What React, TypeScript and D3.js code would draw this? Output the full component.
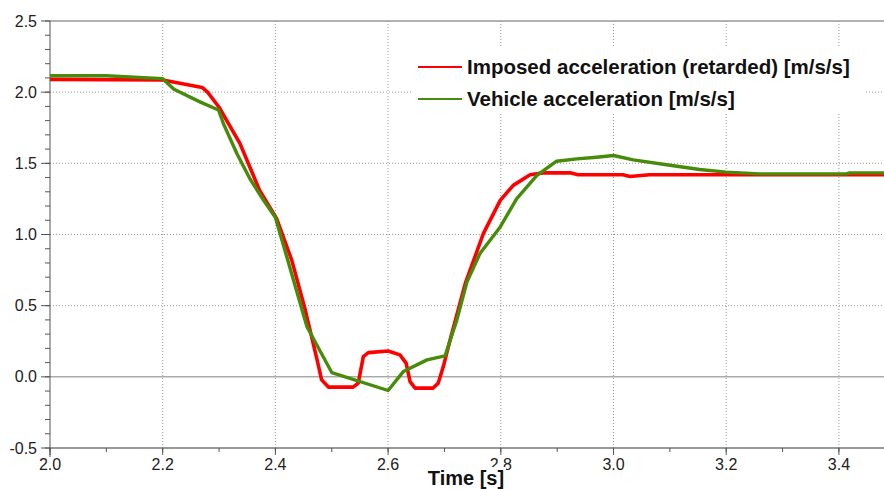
import React, { useEffect } from "react";
import * as d3 from "d3";

// Imposed acceleration (retarded), m/s/s
const imposedTime = [2.0, 2.2, 2.27, 2.28, 2.3, 2.337, 2.372, 2.402, 2.429, 2.453, 2.474, 2.482, 2.494, 2.538, 2.547, 2.556, 2.565, 2.6, 2.621, 2.632, 2.639, 2.648, 2.68, 2.689, 2.698, 2.71, 2.737, 2.769, 2.799, 2.822, 2.852, 2.875, 2.923, 2.937, 3.017, 3.029, 3.064, 3.48];
const imposedAcc = [2.09, 2.085, 2.033, 1.998, 1.894, 1.64, 1.31, 1.113, 0.82, 0.469, 0.119, -0.021, -0.072, -0.072, -0.044, 0.142, 0.17, 0.182, 0.154, 0.096, -0.033, -0.079, -0.079, -0.044, 0.072, 0.26, 0.656, 1.006, 1.24, 1.345, 1.42, 1.433, 1.433, 1.42, 1.42, 1.408, 1.42, 1.42];

// Vehicle acceleration, m/s/s
const vehicleTime = [2.0, 2.1, 2.2, 2.22, 2.267, 2.299, 2.308, 2.332, 2.355, 2.379, 2.4, 2.456, 2.5, 2.6, 2.627, 2.669, 2.701, 2.722, 2.74, 2.763, 2.799, 2.828, 2.864, 2.899, 2.935, 2.97, 3.0, 3.035, 3.094, 3.153, 3.2, 3.259, 3.413, 3.419, 3.48];
const vehicleAcc = [2.115, 2.115, 2.095, 2.02, 1.93, 1.875, 1.776, 1.566, 1.39, 1.24, 1.12, 0.352, 0.03, -0.096, 0.037, 0.119, 0.147, 0.4, 0.667, 0.866, 1.053, 1.251, 1.415, 1.515, 1.531, 1.543, 1.555, 1.524, 1.49, 1.457, 1.438, 1.426, 1.426, 1.433, 1.433];

const xTicks = [2.0, 2.2, 2.4, 2.6, 2.8, 3.0, 3.2, 3.4];
const yTicks = [-0.5, 0.0, 0.5, 1.0, 1.5, 2.0, 2.5];

const legendLabels = ["Imposed acceleration (retarded) [m/s/s]", "Vehicle acceleration [m/s/s]"];
const colors = ["#ff0000", "#468c0a"];

const width = 884;
const height = 489;
const margin = { top: 21, right: 0, bottom: 41, left: 50 };

export default function App() {
  useEffect(() => {
    document.body.style.margin = "0";
  }, []);

  const x = d3.scaleLinear().domain([2.0, 3.48]).range([margin.left, width - margin.right]);
  const y = d3.scaleLinear().domain([-0.5, 2.5]).range([height - margin.bottom, margin.top]);

  const line = d3
    .line<[number, number]>()
    .x((d) => x(d[0]))
    .y((d) => y(d[1]));

  const imposed = imposedTime.map((t, i) => [t, imposedAcc[i]] as [number, number]);
  const vehicle = vehicleTime.map((t, i) => [t, vehicleAcc[i]] as [number, number]);

  const xMinor = d3.range(20, 35).map((v) => v / 10);
  const yMinor = d3.range(-5, 26).map((v) => v / 10);

  const x0 = margin.left;
  const x1 = width - margin.right;
  const yTop = margin.top;
  const yBot = height - margin.bottom;
  const font = "'Liberation Sans', Arial, sans-serif";

  return (
    <svg width={width} height={height} style={{ display: "block", fontFamily: font }}>
      <rect width={width} height={height} fill="#fff" />

      {/* grid */}
      {xTicks.slice(1).map((t) => (
        <line key={"gx" + t} x1={x(t)} x2={x(t)} y1={yTop} y2={yBot} stroke="#999" strokeDasharray="1,2" />
      ))}
      {yTicks.filter((v) => v > -0.5 && v < 2.5 && v !== 0).map((v) => (
        <line key={"gy" + v} x1={x0} x2={x1} y1={y(v)} y2={y(v)} stroke="#999" strokeDasharray="1,2" />
      ))}
      <line x1={x0} x2={x1} y1={y(0)} y2={y(0)} stroke="#808080" />

      {/* frame */}
      <line x1={x0} x2={x1} y1={yTop} y2={yTop} stroke="#999" strokeWidth={1.5} />
      <line x1={x0} x2={x1} y1={yBot} y2={yBot} stroke="#777" strokeWidth={1.5} />
      <line x1={x0} x2={x0} y1={yTop} y2={yBot + 9} stroke="#555" />

      {/* y ticks */}
      {yMinor.map((v) => (
        <line key={"ym" + v} x1={x0 - 5} x2={x0} y1={y(v)} y2={y(v)} stroke="#555" />
      ))}
      {yTicks.map((v) => (
        <g key={"yt" + v}>
          <line x1={x0 - 9} x2={x0} y1={y(v)} y2={y(v)} stroke="#555" />
          <text x={x0 - 13} y={y(v)} dy="0.35em" textAnchor="end" fontSize={16} fill="#222">
            {v.toFixed(1)}
          </text>
        </g>
      ))}

      {/* x ticks */}
      {xMinor.map((t) => (
        <line key={"xm" + t} x1={x(t)} x2={x(t)} y1={yBot} y2={yBot + 4} stroke="#555" />
      ))}
      {xTicks.map((t) => (
        <g key={"xt" + t}>
          <line x1={x(t)} x2={x(t)} y1={yBot} y2={yBot + 7} stroke="#555" />
          <text x={x(t)} y={yBot + 22} textAnchor="middle" fontSize={16} fill="#222">
            {t.toFixed(1)}
          </text>
        </g>
      ))}

      {/* axis title with white box over tick labels */}
      <rect x={426} y={467} width={80} height={22} fill="#fff" />
      <text x={466} y={485} textAnchor="middle" fontSize={20} fontWeight="bold" fill="#111">
        Time [s]
      </text>

      {/* series */}
      <path d={line(imposed) || ""} fill="none" stroke={colors[0]} strokeWidth={3.6} strokeLinejoin="round" />
      <path d={line(vehicle) || ""} fill="none" stroke={colors[1]} strokeWidth={3.4} strokeLinejoin="round" />

      {/* legend */}
      <rect x={413} y={47} width={452} height={65} fill="#fff" />
      {legendLabels.map((label, i) => (
        <g key={label} transform={`translate(418,${67 + i * 32})`}>
          <line x1={0} x2={44} y1={0} y2={0} stroke={colors[i]} strokeWidth={2} />
          <text x={49} y={0} dy="0.35em" fontSize={20.5} fontWeight="bold" fill="#111">
            {label}
          </text>
        </g>
      ))}
    </svg>
  );
}
